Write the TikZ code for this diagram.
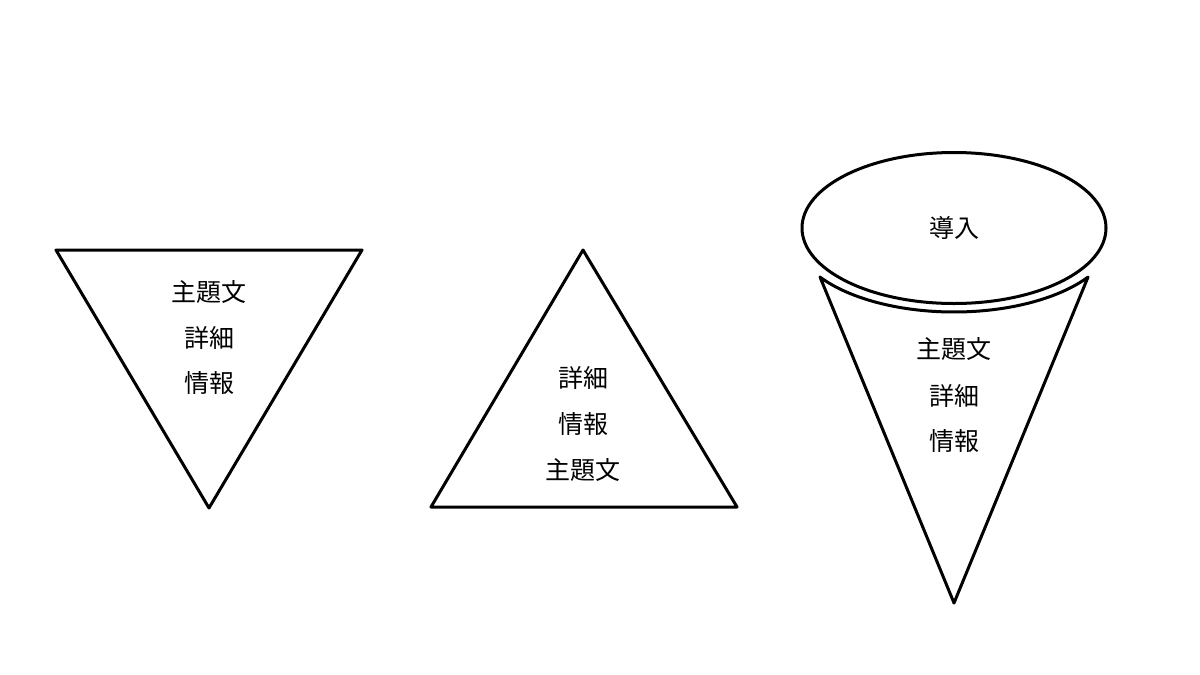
\documentclass[tikz,border=0pt]{standalone}
\usepackage{fontspec}
\newfontfamily\cjk{Noto Sans CJK JP}
\usetikzlibrary{shapes.geometric}
\tikzset{
  shapeline/.style={draw=black, line width=3pt, line join=round},
  label/.style={font=\cjk\fontsize{25}{29}\selectfont, inner sep=0pt, anchor=center},
}
\begin{document}
\begin{tikzpicture}[x=1pt,y=-1pt]
\useasboundingbox[fill=white] (0,0) rectangle (1200,675);
% Left inverted triangle
\draw[shapeline] (56,250) -- (362,250) -- (209,508) -- cycle;
\node[label] (a1) at (209,292) {主題文};
\node[label] (a2) at (209,338) {詳細};
\node[label] (a3) at (209,383) {情報};
% Middle triangle
\draw[shapeline] (583,250) -- (737,507) -- (431,507) -- cycle;
\node[label] (b1) at (583,378) {詳細};
\node[label] (b2) at (583,424) {情報};
\node[label] (b3) at (583,470) {主題文};
% Cone
\draw[shapeline] (820,277) -- plot[domain=213.1:326.9, samples=80] ({954+160*cos(\x)}, {235-77*sin(\x)}) -- (954,603) -- cycle;
\node[shapeline, ellipse, minimum width=304pt, minimum height=151pt, inner sep=0pt, label] (intro) at (954,228) {導入};
\node[label] (c1) at (954,349) {主題文};
\node[label] (c2) at (954,396) {詳細};
\node[label] (c3) at (954,441) {情報};
\end{tikzpicture}
\end{document}
